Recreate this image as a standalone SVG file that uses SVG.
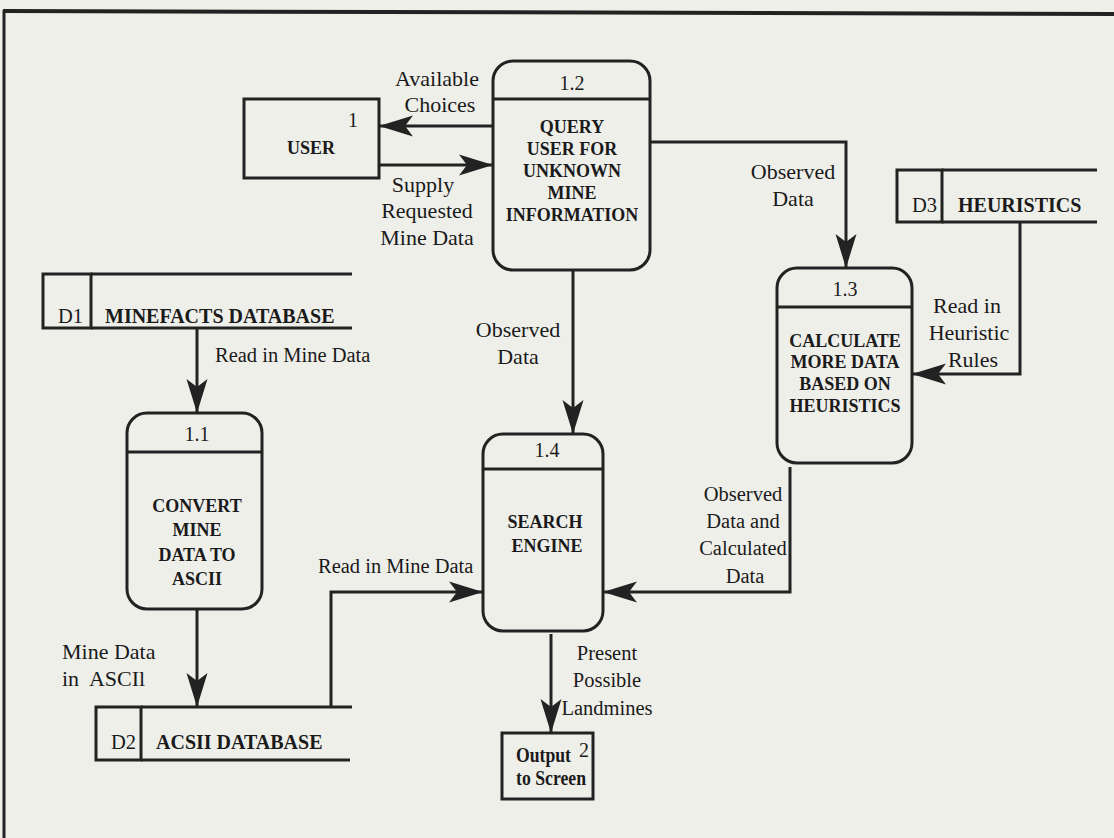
<svg xmlns="http://www.w3.org/2000/svg" width="1114" height="838" viewBox="0 0 1114 838">
  <style>
    .frame { fill: none; stroke: #222; }
    .box { fill: none; stroke: #222; stroke-width: 3; }
    .ln { fill: none; stroke: #222; stroke-width: 3; }
    .flow { fill: none; stroke: #222; stroke-width: 3; marker-end: url(#arrow); }
    .lbl { font-family: "Liberation Serif", "Times New Roman", serif; font-size: 22px; fill: #1a1a1a; }
    .lbl2 { font-family: "Liberation Serif", "Times New Roman", serif; font-size: 20.5px; fill: #1a1a1a; }
    .num { font-family: "Liberation Serif", "Times New Roman", serif; font-size: 20px; fill: #1a1a1a; text-anchor: middle; }
    .bold { font-family: "Liberation Serif", "Times New Roman", serif; font-size: 18px; font-weight: bold; fill: #1a1a1a; text-anchor: middle; }
    .sbold { font-family: "Liberation Serif", "Times New Roman", serif; font-size: 20px; font-weight: bold; fill: #1a1a1a; }
    .mid { text-anchor: middle; }
  </style>
  <defs>
    <marker id="arrow" markerUnits="userSpaceOnUse" markerWidth="36" markerHeight="24" refX="34" refY="11" orient="auto">
      <path d="M34,11 L0,0.5 L8,11 L0,21.5 Z" fill="#222"/>
    </marker>
  </defs>

  <rect width="1114" height="838" fill="#efefea"/>

  <!-- page frame -->
  <g id="frame">
    <line class="frame" x1="3" y1="11" x2="1114" y2="14" stroke-width="4"/>
    <line class="frame" x1="4" y1="10" x2="4" y2="838" stroke-width="3"/>
  </g>

  <!-- connectors -->
  <g id="connectors">
    <line class="flow" x1="493" y1="126" x2="379" y2="126"/>
    <line class="flow" x1="379" y1="165" x2="493" y2="165"/>
    <path class="flow" d="M650,142 H846 V268"/>
    <path class="flow" d="M1020,222 V374 H912"/>
    <line class="flow" x1="197" y1="328" x2="197" y2="413"/>
    <line class="flow" x1="197" y1="609" x2="197" y2="707"/>
    <path class="flow" d="M331,707 V592 H483"/>
    <line class="flow" x1="573" y1="270" x2="573" y2="434"/>
    <path class="flow" d="M790,467 V592 H603"/>
    <line class="flow" x1="551" y1="634" x2="551" y2="733"/>

    <text class="lbl mid" x="437" y="86">Available</text>
    <text class="lbl mid" x="440" y="112">Choices</text>
    <text class="lbl mid" x="423" y="192">Supply</text>
    <text class="lbl mid" x="427" y="218">Requested</text>
    <text class="lbl mid" x="427" y="245">Mine Data</text>

    <text class="lbl mid" x="793" y="179">Observed</text>
    <text class="lbl mid" x="793" y="206">Data</text>

    <text class="lbl mid" x="967" y="313">Read in</text>
    <text class="lbl mid" x="969" y="340">Heuristic</text>
    <text class="lbl mid" x="973" y="367">Rules</text>

    <text class="lbl mid" x="518" y="337">Observed</text>
    <text class="lbl mid" x="518" y="364">Data</text>

    <text class="lbl2" x="215" y="362">Read in Mine Data</text>
    <text class="lbl" x="62" y="659">Mine Data</text>
    <text class="lbl" x="62" y="686" xml:space="preserve">in  ASCIl</text>
    <text class="lbl2" x="318" y="573">Read in Mine Data</text>

    <text class="lbl2 mid" x="743" y="501">Observed</text>
    <text class="lbl2 mid" x="743" y="528">Data and</text>
    <text class="lbl2 mid" x="743" y="555">Calculated</text>
    <text class="lbl2 mid" x="745" y="583">Data</text>

    <text class="lbl2 mid" x="607" y="660">Present</text>
    <text class="lbl2 mid" x="607" y="687">Possible</text>
    <text class="lbl2 mid" x="607" y="715">Landmines</text>
  </g>

  <!-- external entity: user -->
  <g id="user">
    <rect class="box" x="244" y="99" width="135" height="79"/>
    <text class="bold" x="311" y="154" font-size="19">USER</text>
    <text class="num" x="353" y="127" font-size="18">1</text>
  </g>

  <!-- process 1.2 -->
  <g id="p1_2">
    <rect class="box" x="493" y="61" width="157" height="209" rx="20"/>
    <line class="ln" x1="493" y1="99" x2="650" y2="99"/>
    <text class="num" x="572" y="90">1.2</text>
    <text class="bold" x="572" y="133">QUERY</text>
    <text class="bold" x="572" y="155">USER FOR</text>
    <text class="bold" x="572" y="177">UNKNOWN</text>
    <text class="bold" x="572" y="199">MINE</text>
    <text class="bold" x="572" y="221">INFORMATION</text>
  </g>

  <!-- data store D3 -->
  <g id="d3">
    <rect class="box" x="897" y="170" width="45" height="52"/>
    <line class="ln" x1="942" y1="170" x2="1097" y2="170"/>
    <line class="ln" x1="942" y1="222" x2="1097" y2="222"/>
    <text class="lbl2" x="912" y="212" font-size="20">D3</text>
    <text class="sbold" x="958" y="212">HEURISTICS</text>
  </g>

  <!-- process 1.3 -->
  <g id="p1_3">
    <rect class="box" x="777" y="268" width="135" height="195" rx="20"/>
    <line class="ln" x1="777" y1="307" x2="912" y2="307"/>
    <text class="num" x="845" y="296">1.3</text>
    <text class="bold" x="845" y="347">CALCULATE</text>
    <text class="bold" x="845" y="368">MORE DATA</text>
    <text class="bold" x="845" y="390">BASED ON</text>
    <text class="bold" x="845" y="412">HEURISTICS</text>
  </g>

  <!-- data store D1 -->
  <g id="d1">
    <rect class="box" x="43" y="274" width="48" height="54"/>
    <line class="ln" x1="91" y1="274" x2="352" y2="274"/>
    <line class="ln" x1="91" y1="328" x2="352" y2="328"/>
    <text class="lbl2" x="58" y="323" font-size="20">D1</text>
    <text class="sbold" x="105" y="323">MINEFACTS DATABASE</text>
  </g>

  <!-- process 1.1 -->
  <g id="p1_1">
    <rect class="box" x="127" y="413" width="135" height="196" rx="20"/>
    <line class="ln" x1="127" y1="452" x2="262" y2="452"/>
    <text class="num" x="197" y="441">1.1</text>
    <text class="bold" x="197" y="512" font-size="19">CONVERT</text>
    <text class="bold" x="197" y="536" font-size="19">MINE</text>
    <text class="bold" x="197" y="561" font-size="19">DATA TO</text>
    <text class="bold" x="197" y="585" font-size="19">ASCII</text>
  </g>

  <!-- data store D2 -->
  <g id="d2">
    <rect class="box" x="96" y="707" width="45" height="53"/>
    <line class="ln" x1="141" y1="707" x2="352" y2="707"/>
    <line class="ln" x1="141" y1="760" x2="350" y2="760"/>
    <text class="lbl2" x="111" y="749" font-size="20">D2</text>
    <text class="sbold" x="156" y="749">ACSII DATABASE</text>
  </g>

  <!-- process 1.4 -->
  <g id="p1_4">
    <rect class="box" x="483" y="434" width="120" height="197" rx="20"/>
    <line class="ln" x1="483" y1="469" x2="603" y2="469"/>
    <text class="num" x="547" y="457">1.4</text>
    <text class="bold" x="545" y="528">SEARCH</text>
    <text class="bold" x="547" y="552">ENGINE</text>
  </g>

  <!-- external entity: screen output -->
  <g id="output">
    <rect class="box" x="502" y="733" width="91" height="66"/>
    <text class="sbold" x="516" y="762" font-size="17" textLength="55" lengthAdjust="spacingAndGlyphs">Output</text>
    <text class="num" x="584" y="757" font-size="16">2</text>
    <text class="sbold" x="516" y="785" font-size="17" textLength="70" lengthAdjust="spacingAndGlyphs">to Screen</text>
  </g>
</svg>
